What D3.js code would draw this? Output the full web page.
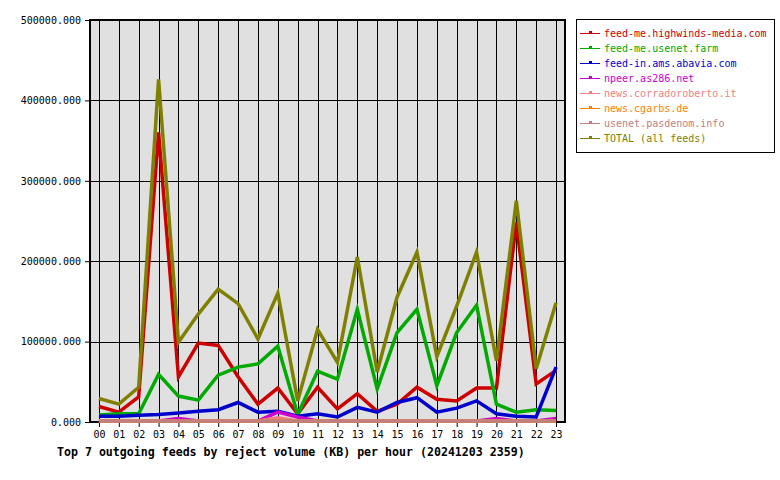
<!DOCTYPE html>
<html>
<head>
<meta charset="utf-8">
<script src="https://cdn.jsdelivr.net/npm/d3@7"></script>
<style>
  body { margin: 0; background: #fff; }
  text { font-family: "DejaVu Sans Mono", monospace; }
</style>
</head>
<body>
<div id="chart"></div>
<script>
const hours = d3.range(24).map(h => String(h).padStart(2, "0"));
const yTicks = [0, 100000, 200000, 300000, 400000, 500000];

// values in KB
const highwinds = [18000, 11000, 30000, 359000, 55000, 97000, 94000, 55000, 21000, 41000, 9000, 42000, 15000, 34000, 12000, 21000, 42000, 27000, 25000, 41000, 41000, 247000, 46000, 63000];
const usenetFarm = [7500, 9000, 9000, 58000, 31000, 26000, 57000, 67000, 71000, 93000, 8000, 62000, 52000, 139000, 40000, 110000, 139000, 44000, 110000, 144000, 21000, 11000, 14000, 13000];
const abavia = [6000, 6000, 7000, 8000, 10000, 12000, 14000, 23000, 11000, 12000, 6000, 9000, 5000, 17000, 11000, 23000, 29000, 11000, 16000, 25000, 9000, 6000, 5000, 67000];
const npeer = [0, 0, 0, 0, 3000, 0, 0, 0, 0, 11000, 5000, 0, 0, 0, 0, 0, 0, 0, 0, 0, 3000, 0, 0, 3000];
const corrado = [0, 0, 0, 0, 0, 0, 0, 0, 0, 4000, 0, 0, 0, 0, 0, 0, 0, 0, 0, 0, 0, 0, 0, 0];
const cgarbs = [0, 0, 0, 0, 0, 0, 0, 0, 0, 0, 0, 0, 0, 0, 0, 0, 0, 0, 0, 0, 0, 0, 0, 0];
const pasdenom = [0, 0, 0, 0, 0, 0, 0, 0, 0, 0, 0, 0, 0, 0, 0, 0, 0, 0, 0, 0, 0, 0, 0, 0];
const total = [28000, 21000, 42000, 425000, 98000, 133000, 164000, 146000, 102000, 159000, 25000, 114000, 73000, 204000, 61000, 154000, 210000, 80000, 143000, 210000, 75000, 274000, 65000, 147000];

const feedNames = ["feed-me.highwinds-media.com", "feed-me.usenet.farm", "feed-in.ams.abavia.com", "npeer.as286.net", "news.corradoroberto.it", "news.cgarbs.de", "usenet.pasdenom.info", "TOTAL (all feeds)"];
const feedColours = ["#cc0000", "#00aa00", "#0000cc", "#cc00cc", "#f08080", "#ff8000", "#c08080", "#808000"];
const feedValues = [highwinds, usenetFarm, abavia, npeer, corrado, cgarbs, pasdenom, total];

const svg = d3.select("#chart").append("svg")
    .attr("width", 780)
    .attr("height", 480);

const x = d3.scaleLinear().domain([-0.45, 23.45]).range([90, 565]);
const y = d3.scaleLinear().domain([0, 500000]).range([422, 20]);

// plot background
svg.append("rect")
    .attr("x", x(-0.45)).attr("y", y(500000))
    .attr("width", x(23.45) - x(-0.45))
    .attr("height", y(0) - y(500000))
    .attr("fill", "#e0e0e0");

// grid
svg.append("g").selectAll("line").data(hours).join("line")
    .attr("x1", (d, i) => Math.round(x(i)) + 0.5).attr("x2", (d, i) => Math.round(x(i)) + 0.5)
    .attr("y1", y(500000)).attr("y2", y(0))
    .attr("stroke", "#000").attr("stroke-width", 1);

svg.append("g").selectAll("line").data(yTicks.slice(1, -1)).join("line")
    .attr("x1", x(-0.45)).attr("x2", x(23.45))
    .attr("y1", d => Math.round(y(d)) + 0.5).attr("y2", d => Math.round(y(d)) + 0.5)
    .attr("stroke", "#000").attr("stroke-width", 1);

// axes
const yAxisGroup = svg.append("g")
    .attr("transform", `translate(${x(-0.45)},0)`)
    .call(d3.axisLeft(y).tickValues(yTicks).tickFormat(d3.format(".3f")).tickSize(5).tickPadding(4));
yAxisGroup.select(".domain").remove();
yAxisGroup.selectAll("text").style("font-size", "10px").style("fill", "#000");

const xAxisGroup = svg.append("g")
    .attr("transform", `translate(0,${y(0)})`)
    .call(d3.axisBottom(x).tickValues(d3.range(24)).tickFormat(i => hours[i]).tickSize(5).tickPadding(4));
xAxisGroup.select(".domain").remove();
xAxisGroup.selectAll("text").style("font-size", "10px").style("fill", "#000");

// plot border
svg.append("rect")
    .attr("x", x(-0.45)).attr("y", y(500000))
    .attr("width", x(23.45) - x(-0.45))
    .attr("height", y(0) - y(500000))
    .attr("fill", "none")
    .attr("stroke", "#000")
    .attr("stroke-width", 2);

// series
const line = d3.line()
    .x((d, i) => x(i))
    .y(d => y(d));

const seriesGroup = svg.append("g")
    .attr("transform", "translate(0,-1)");

feedValues.forEach((vals, k) => {
    seriesGroup.append("path")
        .datum(vals)
        .attr("fill", "none")
        .attr("stroke", feedColours[k])
        .attr("stroke-width", 3.5)
        .attr("stroke-linejoin", "miter")
        .attr("d", line);
});

// title
svg.append("text")
    .attr("x", 57)
    .attr("y", 456)
    .style("font-size", "11.6px")
    .style("font-weight", "bold")
    .style("fill", "#000")
    .text("Top 7 outgoing feeds by reject volume (KB) per hour (20241203 2359)");

// legend
const legend = svg.append("g");
legend.append("rect")
    .attr("x", 576.5).attr("y", 19.5)
    .attr("width", 198).attr("height", 133)
    .attr("fill", "#fff").attr("stroke", "#000").attr("stroke-width", 1);

feedNames.forEach((name, k) => {
    const ly = 33 + k * 15;
    legend.append("line")
        .attr("x1", 580).attr("x2", 600)
        .attr("y1", ly + 0.5).attr("y2", ly + 0.5)
        .attr("stroke", feedColours[k]).attr("stroke-width", 1);
    legend.append("rect")
        .attr("x", 589).attr("y", ly - 2)
        .attr("width", 3).attr("height", 2)
        .attr("fill", feedColours[k]);
    legend.append("text")
        .attr("x", 604).attr("y", ly + 4)
        .style("font-size", "10px")
        .style("fill", feedColours[k])
        .text(name);
});
</script>
</body>
</html>
